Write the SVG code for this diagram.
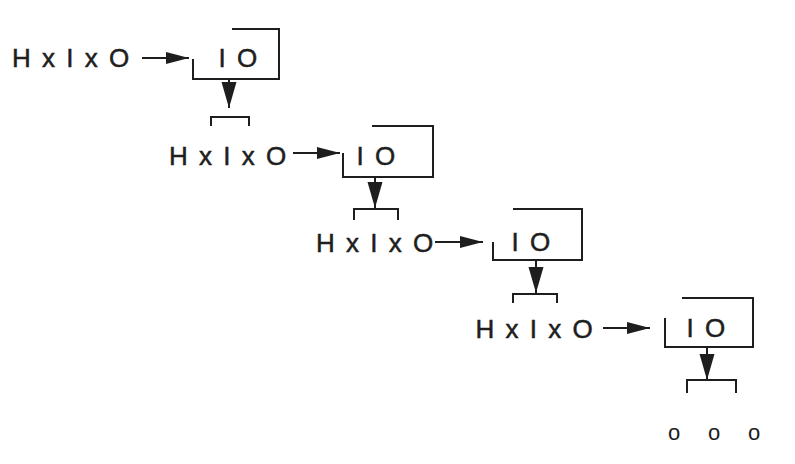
<svg xmlns="http://www.w3.org/2000/svg" width="795" height="464" viewBox="0 0 795 464">
<style>
.t{font-family:"Liberation Sans",Arial,sans-serif;font-size:26px;fill:#1e1e1e;stroke:#1e1e1e;stroke-width:0.5;letter-spacing:2px}
.ln{fill:none;stroke:#1e1e1e;stroke-width:2}
.dots{font-family:"Liberation Sans",Arial,sans-serif;font-size:22px;fill:#1e1e1e;letter-spacing:10.85px}
</style>
<defs>
<marker id="ah" markerUnits="userSpaceOnUse" markerWidth="24" markerHeight="12" refX="23" refY="6" orient="auto" overflow="visible">
<path d="M0,0 L23,6 L0,12 z" fill="#1e1e1e"/>
</marker>
<marker id="av" markerUnits="userSpaceOnUse" markerWidth="27" markerHeight="16" refX="26" refY="7.5" orient="auto" overflow="visible">
<path d="M0,0 L26,7.5 L0,15 z" fill="#1e1e1e"/>
</marker>
</defs>
<rect width="795" height="464" fill="#ffffff"/>
<g id="row1">
<text class="t" x="12" y="67">H x I x O</text>
<path class="ln" d="M232,29 H279 V79 H193 V59"/>
<text class="t" x="218.5" y="67">I O</text>
</g>
<g id="row2">
<path class="ln" d="M211,126 V117 H249 V126"/>
<text class="t" x="169" y="165">H x I x O</text>
<path class="ln" d="M372,126 H433 V177 H343 V153"/>
<text class="t" x="356.5" y="165">I O</text>
</g>
<g id="row3">
<path class="ln" d="M354,220 V209 H398 V220"/>
<text class="t" x="316" y="252">H x I x O</text>
<path class="ln" d="M513,209 H582 V260 H493 V242"/>
<text class="t" x="511.5" y="251">I O</text>
</g>
<g id="row4">
<path class="ln" d="M513,303 V294 H557 V303"/>
<text class="t" x="475.5" y="338">H x I x O</text>
<path class="ln" d="M682,298 H753 V347 H665 V318"/>
<text class="t" x="686.5" y="337">I O</text>
</g>
<g id="continuation">
<path class="ln" d="M687,393 V380 H736 V393"/>
<text class="dots" x="667.9" y="439.5">o o o</text>
</g>
<g id="connectors">
<line class="ln" x1="142" y1="58" x2="189" y2="58" marker-end="url(#ah)"/>
<line class="ln" x1="229" y1="79" x2="229" y2="108" marker-end="url(#av)"/>
<line class="ln" x1="293" y1="153" x2="340" y2="153" marker-end="url(#ah)"/>
<line class="ln" x1="375" y1="177" x2="375" y2="208" marker-end="url(#av)"/>
<line class="ln" x1="435" y1="242" x2="483" y2="242" marker-end="url(#ah)"/>
<line class="ln" x1="536" y1="260" x2="536" y2="293" marker-end="url(#av)"/>
<line class="ln" x1="603" y1="328" x2="650" y2="328" marker-end="url(#ah)"/>
<line class="ln" x1="707" y1="347" x2="707" y2="380" marker-end="url(#av)"/>
</g>
</svg>
